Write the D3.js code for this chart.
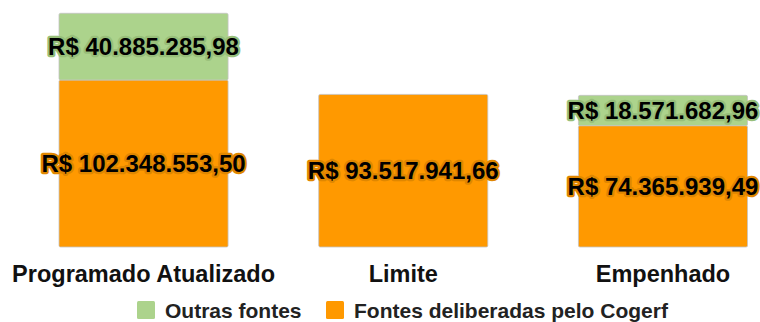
<!DOCTYPE html>
<html>
<head>
<meta charset="utf-8">
<script src="https://cdn.jsdelivr.net/npm/d3@7"></script>
<style>
  html, body { margin: 0; padding: 0; background: #fff; }
  svg { display: block; font-family: "Liberation Sans", Arial, sans-serif; }
</style>
</head>
<body>
<svg id="chart" width="760" height="322"></svg>
<script>
// Budget execution by stage, split into two funding groups
const categories = ["Programado Atualizado", "Limite", "Empenhado"];
const seriesNames = ["Fontes deliberadas pelo Cogerf", "Outras fontes"];
const fontesCogerf = [102348553.50, 93517941.66, 74365939.49];
const outrasFontes = [40885285.98, 0, 18571682.96];
const seriesColors = ["#ff9900", "#acd38c"];
const haloColors = ["#e08700", "#98bf7a"];

const rows = categories.map((c, i) => ({
  category: c,
  [seriesNames[0]]: fontesCogerf[i],
  [seriesNames[1]]: outrasFontes[i]
}));

const svg = d3.select("#chart");

const x = d3.scaleBand()
  .domain(categories)
  .range([59, 747.5])
  .paddingInner(0.349)
  .paddingOuter(0);

const maxTotal = d3.max(rows, r => r[seriesNames[0]] + r[seriesNames[1]]);
const y = d3.scaleLinear()
  .domain([0, maxTotal])
  .range([247, 13.3]);

const stacked = d3.stack().keys(seriesNames)(rows);

const brl = v => "R$ " + v.toLocaleString("pt-BR", { minimumFractionDigits: 2, maximumFractionDigits: 2 });

const layers = svg.append("g").selectAll("g")
  .data(stacked)
  .join("g");

layers.selectAll("rect")
  .data(d => d.filter(s => s[1] - s[0] > 0))
  .join("rect")
  .attr("x", d => x(d.data.category))
  .attr("width", x.bandwidth())
  .attr("y", d => y(d[1]))
  .attr("height", d => y(d[0]) - y(d[1]))
  .attr("rx", 1.5)
  .attr("fill", function () { return seriesColors[stacked.indexOf(d3.select(this.parentNode).datum())]; })
  .attr("stroke", "#c4c4c4")
  .attr("stroke-width", 0.8);

// Value labels centred in each segment, with a halo in the segment colour
stacked.forEach((layer, li) => {
  svg.append("g").selectAll("text")
    .data(layer.filter(s => s[1] - s[0] > 0))
    .join("text")
    .attr("x", d => x(d.data.category) + x.bandwidth() / 2)
    .attr("y", d => (y(d[0]) + y(d[1])) / 2)
    .attr("dy", "0.36em")
    .attr("text-anchor", "middle")
    .attr("font-size", 24)
    .attr("font-weight", "bold")
    .attr("fill", "#000")
    .attr("stroke", haloColors[li])
    .attr("stroke-width", 4.5)
    .attr("stroke-linejoin", "round")
    .attr("paint-order", "stroke")
    .text(d => brl(d[1] - d[0]));
});

// Category axis
const xAxis = svg.append("g")
  .attr("transform", "translate(0,247)")
  .call(d3.axisBottom(x).tickSize(0).tickPadding(0));
xAxis.select(".domain").remove();
xAxis.selectAll("text")
  .attr("y", 34.5)
  .attr("dy", 0)
  .attr("font-size", 23.5)
  .attr("font-weight", "bold")
  .attr("font-family", "Liberation Sans, Arial, sans-serif")
  .attr("fill", "#111");

// Legend
const legendItems = [
  { name: seriesNames[1], color: seriesColors[1], x: 137 },
  { name: seriesNames[0], color: seriesColors[0], x: 326 }
];
const legend = svg.append("g").selectAll("g")
  .data(legendItems)
  .join("g")
  .attr("transform", d => `translate(${d.x},301)`);
legend.append("rect")
  .attr("width", 18)
  .attr("height", 18)
  .attr("rx", 1.5)
  .attr("fill", d => d.color);
legend.append("text")
  .attr("x", 28)
  .attr("y", 16.5)
  .attr("font-size", 21)
  .attr("font-weight", "bold")
  .attr("fill", "#222")
  .text(d => d.name);
</script>
</body>
</html>
